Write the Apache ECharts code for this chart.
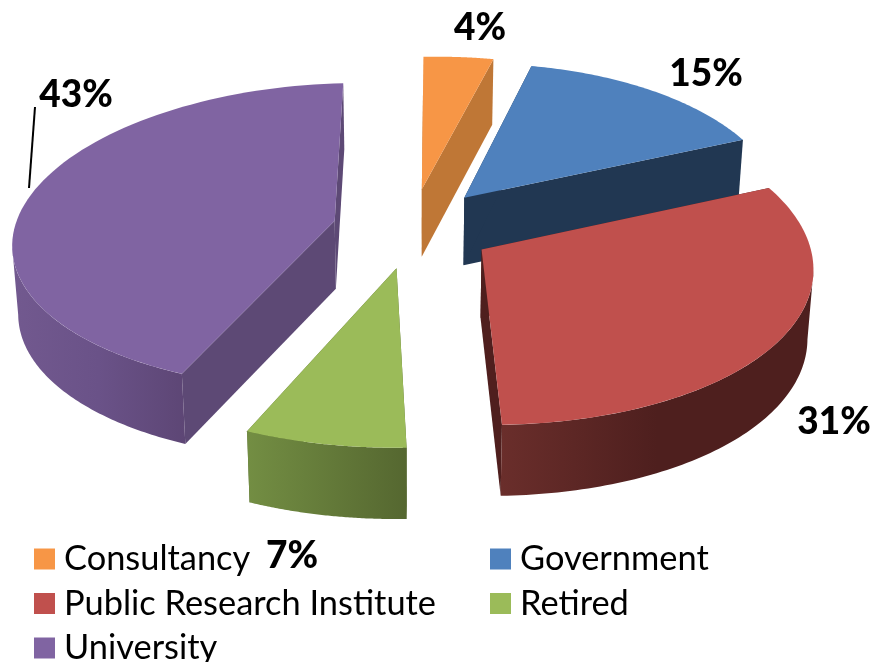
<!DOCTYPE html>
<html><head><meta charset="utf-8">
<style>html,body{margin:0;padding:0;background:#fff}#c{width:873px;height:662px}</style>
<script src="https://cdn.jsdelivr.net/npm/echarts@6/dist/echarts.min.js"></script>
</head><body><div id="c"></div>
<script>
// Data
const categories = ['Consultancy', 'Government', 'Public Research Institute', 'Retired', 'University'];
const shares = [4, 15, 31, 7, 43];
const percentLabels = ['4%', '15%', '31%', '7%', '43%'];
const colors = ['#F79646', '#4F81BD', '#C0504D', '#9BBB59', '#8064A2'];
const cutColors = ['#BF7736', '#213752', '#4F1F1E', '#566830', '#5D4975'];
const wallStops = [
  ['#BF7736', '#BF7736'],
  ['#213752', '#213752'],
  ['#6A2E2B', '#4E1F1E', '#4E1F1E'],
  ['#738E43', '#556730'],
  ['#72598F', '#6A5288', '#5D4675']
];
// Projection constants
const CX = 413, CY = 228, RX = 322, RY = 153, PERSP = 0.10, PERSP_X = 0.115, EXPLODE_X = 0.25, EXPLODE_Y = 0.26, SHEAR = 10, ROLL = 6;
const total = shares.reduce((a, b) => a + b, 0);
const labelAnchors = [[480, 28], [706, 74], [834, 422], [292, 556], [76, 95]];

function project(px, py) {
  const s = 1 / (1 + PERSP * py), sx = 1 / (1 + PERSP_X * py);
  return { x: CX + RX * px * sx + SHEAR * (py * py - py) / 2, y: CY - RY * py * s - ROLL * px, s };
}
function down(p) {
  const d = 45 + 23 * p.s;
  return [CX + (p.x - CX) * 0.985, p.y + d];
}
function renderSlice(i) {
  const before = shares.slice(0, i).reduce((a, b) => a + b, 0);
  const t1 = before / total * 2 * Math.PI, t2 = (before + shares[i]) / total * 2 * Math.PI;
  const mid = (t1 + t2) / 2;
  const ox = Math.sin(mid) * EXPLODE_X, oy = Math.cos(mid) * EXPLODE_Y;
  const rim = t => project(ox + Math.sin(t), oy + Math.cos(t));
  const apex = project(ox, oy);
  const top = [[apex.x, apex.y]];
  const N = 80;
  for (let k = 0; k <= N; k++) { const p = rim(t1 + (t2 - t1) * k / N); top.push([p.x, p.y]); }
  const children = [];
  const quad = (a, b, fill) => children.push({
    type: 'polygon', shape: { points: [[a.x, a.y], [b.x, b.y], down(b), down(a)] }, style: { fill }
  });
  quad(apex, rim(t2), cutColors[i]);
  quad(apex, rim(t1), cutColors[i]);
  // outer wall: runs between the rim's silhouette points, the widest rim points on each side
  let tRight = Math.PI / 2, tLeft = 3 * Math.PI / 2;
  for (let k = -50; k <= 50; k++) {
    const a = Math.PI / 2 + k * 0.01, b = 3 * Math.PI / 2 + k * 0.01;
    if (rim(a).x > rim(tRight).x) tRight = a;
    if (rim(b).x < rim(tLeft).x) tLeft = b;
  }
  const lo = Math.max(t1, tRight), hi = Math.min(t2, tLeft);
  if (hi > lo) {
    const up = [], dn = [];
    for (let k = 0; k <= N; k++) {
      const p = rim(lo + (hi - lo) * k / N);
      up.push([p.x, p.y]); dn.unshift(down(p));
    }
    const stops = wallStops[i];
    children.push({
      type: 'polygon', shape: { points: up.concat(dn) },
      style: { fill: { type: 'linear', x: 0, y: 0, x2: 1, y2: 0,
        colorStops: stops.map((c, j) => ({ offset: j / (stops.length - 1), color: c })) } }
    });
  }
  children.push({ type: 'polygon', shape: { points: top }, style: { fill: colors[i] } });
  if (i === 4) {
    children.push({ type: 'line', shape: { x1: 35, y1: 107, x2: 29, y2: 188 }, style: { stroke: '#000', lineWidth: 2 } });
  }
  children.push({
    type: 'text',
    style: {
      x: labelAnchors[i][0], y: labelAnchors[i][1], text: percentLabels[i], align: 'center', verticalAlign: 'middle',
      fill: '#000', font: '900 37px Lato'
    }
  });
  return { type: 'group', children };
}

const chart = echarts.init(document.getElementById('c'), null, { renderer: 'canvas' });
const legendBase = {
  orient: 'vertical', itemWidth: 21, itemHeight: 21, itemGap: 10.5, selectedMode: false,
  icon: 'rect', padding: 0, height: 140,
  textStyle: { fontFamily: 'Lato', fontSize: 34.4, color: '#000', lineHeight: 32, padding: [0, 0, 0, 4] }
};
chart.setOption({
  animation: false,
  backgroundColor: '#fff',
  legend: [
    Object.assign({}, legendBase, { left: 34, top: 542, data: [categories[0], categories[2], categories[4]] }),
    Object.assign({}, legendBase, { left: 490, top: 542, data: [categories[1], categories[3]] })
  ],
  series: categories.map((name, i) => ({
    type: 'custom', name, coordinateSystem: 'none', silent: true,
    itemStyle: { color: colors[i] },
    data: [[shares[i]]],
    renderItem: () => renderSlice(i)
  }))
});
</script></body></html>
